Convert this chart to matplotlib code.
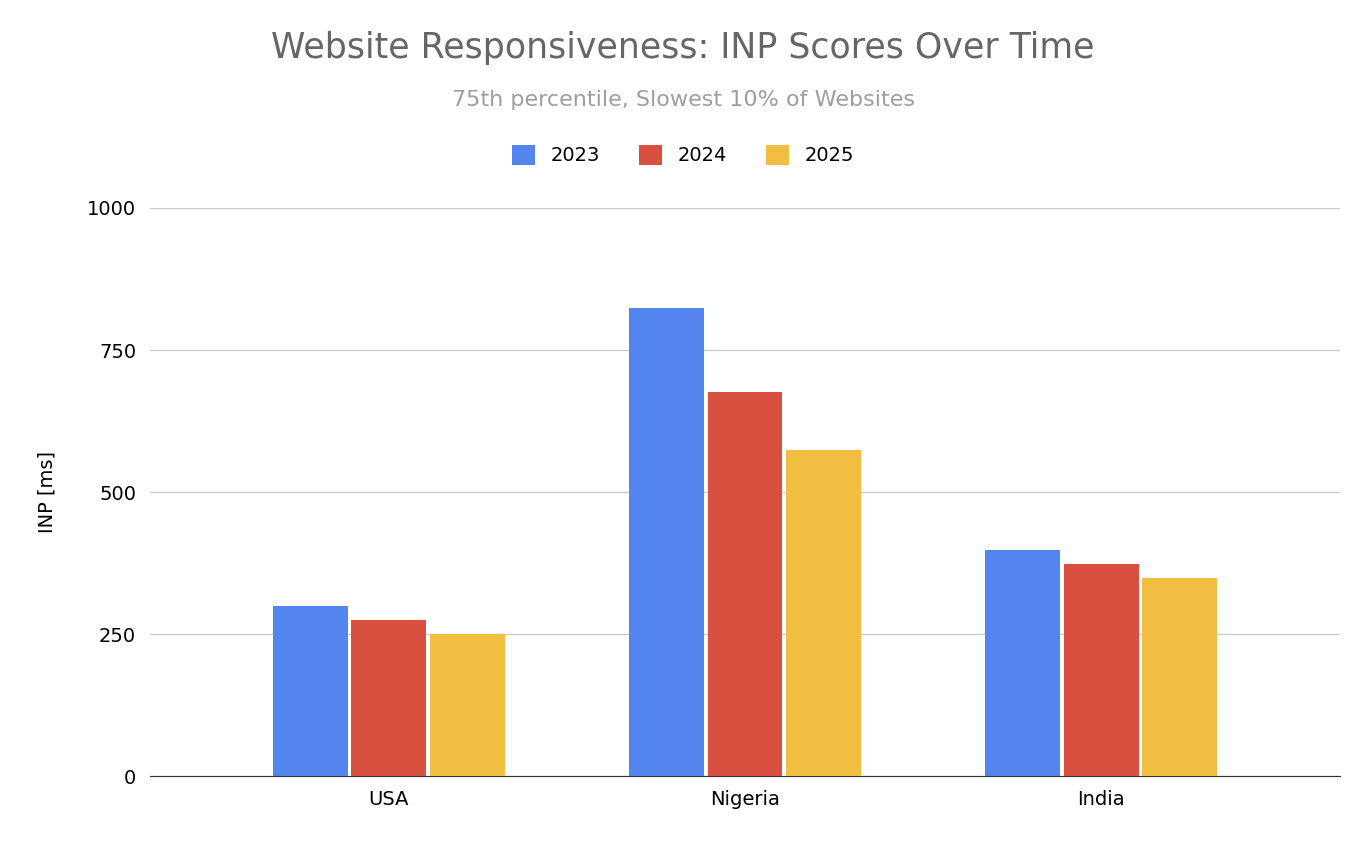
import numpy as np
import matplotlib.pyplot as plt

countries = ["USA", "Nigeria", "India"]
years = ["2023", "2024", "2025"]
inp_2023 = [299, 824, 398]
inp_2024 = [275, 676, 373]
inp_2025 = [250, 574, 349]
colors = ["#5484ed", "#d95040", "#f2be41"]

fig = plt.figure(figsize=(13.66, 8.46), dpi=100)
ax = fig.add_axes([150 / 1366, 1 - 776 / 846, 1190 / 1366, 568 / 846])

x = np.arange(len(countries))
w = 0.21
for i, (vals, yr) in enumerate(zip([inp_2023, inp_2024, inp_2025], years)):
    ax.bar(x + (i - 1) * 0.22, vals, width=w, color=colors[i], label=yr, zorder=3)

ax.set_xlim(-0.67, 2.67)
ax.set_ylim(0, 1000)
ax.set_yticks([0, 250, 500, 750, 1000])
ax.yaxis.grid(True, color="#cccccc", linewidth=1, zorder=0)
ax.set_xticks(x)
ax.set_xticklabels(countries, fontsize=14)
ax.tick_params(axis="both", length=0, labelsize=14, pad=10)
for s in ["top", "right", "left"]:
    ax.spines[s].set_visible(False)
ax.spines["bottom"].set_color("#333333")
ax.set_ylabel("INP [ms]", fontsize=14, labelpad=22)

fig.text(0.5, 1 - 48 / 846, "Website Responsiveness: INP Scores Over Time",
         ha="center", va="center", fontsize=25, color="#666666")
fig.text(0.5, 1 - 100 / 846, "75th percentile, Slowest 10% of Websites",
         ha="center", va="center", fontsize=16, color="#9e9e9e")
fig.legend(loc="center", bbox_to_anchor=(0.5, 1 - 155 / 846), ncol=3,
           frameon=False, fontsize=14, handlelength=1.2, handleheight=1.2,
           columnspacing=2.0)

fig.savefig("out.png")
